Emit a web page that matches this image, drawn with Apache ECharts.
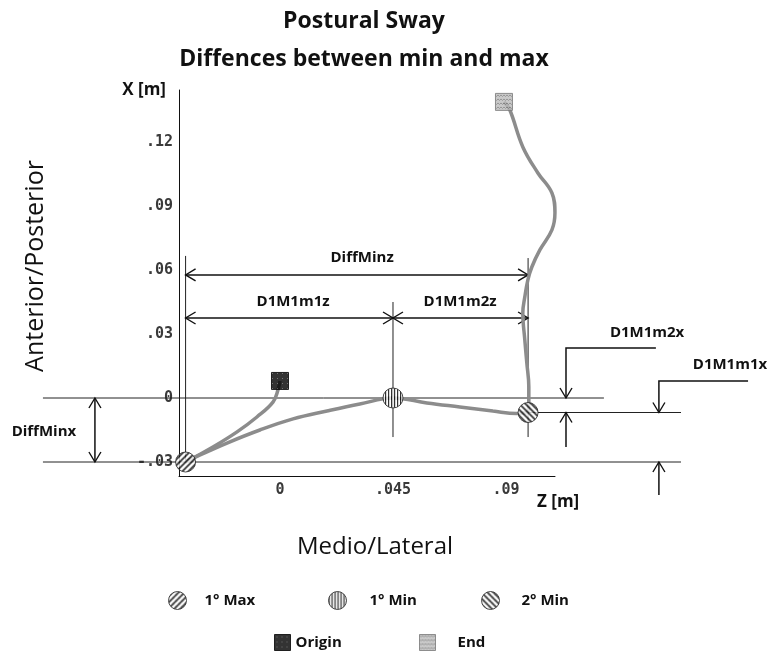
<!DOCTYPE html>
<html><head><meta charset="utf-8">
<script src="https://cdn.jsdelivr.net/npm/echarts@6/dist/echarts.min.js"></script>
<style>html,body{margin:0;padding:0;background:#fff}#c{width:771px;height:652px}</style>
</head><body><div id="c"></div>
<script>
// ---------- data (Z = medio/lateral, X = anterior/posterior, metres) ----------
const zTicks = [0, 0.045, 0.09];
const xTicks = [-0.03, 0, 0.03, 0.06, 0.09, 0.12];

const originPt = [0, 0.0080];
const max1Pt   = [-0.0376, -0.0300];
const min1Pt   = [0.045, 0];
const min2Pt   = [0.0988, -0.0068];
const endPt    = [0.0892, 0.1388];

const pathOriginToMax = [[0,0.0080],[-0.0008,0.0038],[-0.0028,-0.0019],[-0.0092,-0.0089],[-0.0171,-0.0159],[-0.0267,-0.0230],[-0.0346,-0.0281],[-0.0376,-0.0300]];
const pathMaxToMin2 = [[-0.0376,-0.0300],[-0.0318,-0.0267],[-0.0211,-0.0211],[-0.0080,-0.0150],[0.0052,-0.0098],[0.0187,-0.0061],[0.0318,-0.0028],[0.045,0],[0.0585,-0.0023],[0.0716,-0.0042],[0.0848,-0.0061],[0.0943,-0.0073],[0.0988,-0.0068]];
const pathMin2ToEnd = [[0.0988,-0.0068],[0.0991,-0.0023],[0.0991,0.0052],[0.0983,0.0164],[0.0975,0.0272],[0.0967,0.0399],[0.0975,0.0474],[0.0987,0.0553],[0.1003,0.0614],[0.1035,0.0694],[0.1083,0.0788],[0.1095,0.0868],[0.1083,0.0961],[0.1027,0.1055],[0.0967,0.1177],[0.0915,0.1351],[0.0892,0.1388]];

// reference / extension lines (data coords)
const refLines = [
  [[-0.0944,0],[0.1290,0]],
  [[-0.0944,-0.030],[0.1597,-0.030]],
  [[0.0988,-0.0068],[0.1597,-0.0068]],
  [[-0.0376,0.0666],[-0.0376,-0.030]],
  [[0.0988,0.0656],[0.0988,-0.0183]],
  [[0.045,0.0450],[0.045,-0.0183]]
];
// dimension arrows: points, arrow at start, arrow at end
const dimArrows = [
  {pts:[[-0.0376,0.0577],[0.0988,0.0577]], start:true, end:true},
  {pts:[[-0.0376,0.0375],[0.045,0.0375]], start:true, end:true},
  {pts:[[0.045,0.0375],[0.0988,0.0375]], start:true, end:true},
  {pts:[[-0.0737,0],[-0.0737,-0.030]], start:true, end:true},
  {pts:[[0.1497,0.0234],[0.1139,0.0234],[0.1139,0]], start:false, end:true},
  {pts:[[0.1139,-0.0230],[0.1139,-0.0068]], start:false, end:true},
  {pts:[[0.1864,0.0080],[0.1509,0.0080],[0.1509,-0.0068]], start:false, end:true},
  {pts:[[0.1509,-0.0455],[0.1509,-0.030]], start:false, end:true}
];
const dimLabels = [
  {text:'DiffMinz', at:[0.0327,0.0656]},
  {text:'D1M1m1z', at:[0.0052,0.0450]},
  {text:'D1M1m2z', at:[0.0717,0.0450]},
  {text:'DiffMinx', at:[-0.0940,-0.0160]},
  {text:'D1M1m2x', at:[0.1462,0.0305]},
  {text:'D1M1m1x', at:[0.1792,0.0155]}
];

// ---------- patterns ----------
function mkCanvas(w,h,draw){const c=document.createElement('canvas');c.width=w;c.height=h;draw(c.getContext('2d'));return c;}
const cvMax = mkCanvas(6,6,g=>{g.fillStyle='#fff';g.fillRect(0,0,6,6);g.strokeStyle='#000';g.lineWidth=1.7;g.beginPath();
  g.moveTo(-1,1);g.lineTo(1,-1);g.moveTo(-1,7);g.lineTo(7,-1);g.moveTo(5,7);g.lineTo(7,5);g.stroke();});
const cvMin2 = mkCanvas(6,6,g=>{g.fillStyle='#fff';g.fillRect(0,0,6,6);g.strokeStyle='#000';g.lineWidth=1.7;g.beginPath();
  g.moveTo(-1,-1);g.lineTo(7,7);g.moveTo(5,-1);g.lineTo(7,1);g.moveTo(-1,5);g.lineTo(1,7);g.stroke();});
const cvMin1 = mkCanvas(3,3,g=>{g.fillStyle='#fff';g.fillRect(0,0,3,3);g.fillStyle='#000';g.fillRect(1,0,1.2,3);});
const cvOrigin = mkCanvas(5,5,g=>{g.fillStyle='#000';g.fillRect(0,0,5,5);g.fillStyle='#555';g.fillRect(2,2,1,1);});
const cvEnd = mkCanvas(6,4,g=>{g.fillStyle='#bcbcbc';g.fillRect(0,0,6,4);g.strokeStyle='#7a7a7a';g.lineWidth=1;g.beginPath();
  g.moveTo(0,1);g.lineTo(1.5,2.5);g.lineTo(3,1);g.lineTo(4.5,2.5);g.lineTo(6,1);g.stroke();});
// symbols are drawn as unit shapes scaled by size/2, so the chart pattern is scaled back
const pat = (cv, size) => ({image:cv, repeat:'repeat', scaleX: size ? 2/size : 1, scaleY: size ? 2/size : 1});

// ---------- layout constants ----------
const Z_MIN = -0.04022, Z_MAX = 0.10952, X_MIN = -0.03656, X_MAX = 0.14438;
const CIRCLE = 20, SQUARE = 17;
const FONT = '"Open Sans", "Liberation Sans", sans-serif';
const fmt = v => v === 0 ? '0' : (v < 0 ? '-' : '') + String(Math.abs(v)).replace(/^0/, '');

function chevron(tip, from){
  let dx = tip[0]-from[0], dy = tip[1]-from[1]; const L = Math.hypot(dx,dy)||1; dx/=L; dy/=L;
  const len=10, w=6, bx=tip[0]-dx*len, by=tip[1]-dy*len, nx=-dy, ny=dx;
  return {type:'polyline', shape:{points:[[bx+nx*w,by+ny*w],tip,[bx-nx*w,by-ny*w]]}, style:{stroke:'#111',fill:null,lineWidth:1.4}};
}

function legendAt(name,cv,border,left,top,w,h,pad){
  return {data:[{name, itemStyle:{color:pat(cv,0), borderColor:border, borderWidth:1}}], left, top, itemWidth:w, itemHeight:h, padding:0, selectedMode:false,
    textStyle:{fontFamily:FONT, fontWeight:'bold', fontSize:15, color:'#111', padding:[0,0,0,pad]}};
}
function marker(name, pt, symbol, size, cv, border){
  return {type:'scatter', name, data:[pt], symbol, symbolSize:size, z:3, silent:true,
    itemStyle:{color:pat(cv,size), borderColor:border, borderWidth:1}};
}

const chart = echarts.init(document.getElementById('c'), null, {renderer:'canvas'});
chart.setOption({
  backgroundColor:'#fff',
  animation:false,
  title:{text:'Postural Sway\nDiffences between min and max', left:364, top:2, textAlign:'center', padding:0,
    textStyle:{fontFamily:FONT, fontWeight:'bold', fontSize:23, lineHeight:38, color:'#111'}},
  grid:{left:179, top:90, width:376, height:386, containLabel:false, outerBoundsMode:'none'},
  xAxis:{type:'value', min:Z_MIN, max:Z_MAX,
    axisLine:{show:true, onZero:false, lineStyle:{color:'#111', width:1}},
    axisTick:{show:false}, splitLine:{show:false},
    axisLabel:{customValues:zTicks, formatter:fmt, margin:7, fontFamily:'"DejaVu Sans Mono", monospace', fontWeight:'bold', fontSize:15, color:'#3a3a3a'},
    name:'Z [m]', nameLocation:'end', nameGap:-18,
    nameTextStyle:{fontFamily:FONT, fontWeight:'bold', fontSize:17, color:'#111', align:'left', verticalAlign:'top', padding:[18,0,0,0]}},
  yAxis:{type:'value', min:X_MIN, max:X_MAX,
    axisLine:{show:true, onZero:false, lineStyle:{color:'#111', width:1}},
    axisTick:{show:false}, splitLine:{show:false},
    axisLabel:{customValues:xTicks, formatter:fmt, margin:6, verticalAlign:'middle', padding:[0,0,20,0], fontFamily:'"DejaVu Sans Mono", monospace', fontWeight:'bold', fontSize:15, color:'#3a3a3a'},
    name:'X [m]', nameLocation:'end', nameGap:0,
    nameTextStyle:{fontFamily:FONT, fontWeight:'bold', fontSize:17, color:'#111', align:'right', verticalAlign:'middle', padding:[14,13,0,0]}},
  legend:[
    legendAt('1° Max',cvMax,'#222',168,591,20,18,12),
    legendAt('1° Min',cvMin1,'#222',328,591,20,18,17),
    legendAt('2° Min',cvMin2,'#222',481,591,20,18,16),
    legendAt('Origin',cvOrigin,'#000',274,634,16,16,0),
    legendAt('End',cvEnd,'#777',419,634,16,16,17)
  ],
  graphic:[
    {type:'text', x:36, y:266, rotation:Math.PI/2, style:{text:'Anterior/Posterior', font:'25px '+FONT, fill:'#111', align:'center', verticalAlign:'middle', textAlign:'center', textVerticalAlign:'middle'}},
    {type:'text', x:375, y:547, style:{text:'Medio/Lateral', font:'24px '+FONT, fill:'#111', align:'center', verticalAlign:'middle', textAlign:'center', textVerticalAlign:'middle'}}
  ],
  series:[
    {type:'custom', name:'refLines', z:1, silent:true, clip:false,
      data: refLines.map(l=>l[0]),
      renderItem:(params, api)=>({type:'polyline', shape:{points:refLines[params.dataIndex].map(p=>api.coord(p))}, style:{stroke:'#222', fill:null, lineWidth:1}})},
    {type:'custom', name:'dimArrows', z:1, silent:true, clip:false,
      data: dimArrows.map(a=>a.pts[0]),
      renderItem:(params, api)=>{
        const a = dimArrows[params.dataIndex]; const p = a.pts.map(q=>api.coord(q));
        const ch=[{type:'polyline', shape:{points:p}, style:{stroke:'#111', fill:null, lineWidth:1.5}}];
        if(a.start) ch.push(chevron(p[0],p[1]));
        if(a.end) ch.push(chevron(p[p.length-1],p[p.length-2]));
        return {type:'group', children:ch};
      }},
    {type:'custom', name:'dimLabels', z:1, silent:true, clip:false,
      data: dimLabels.map(l=>l.at),
      renderItem:(params, api)=>{const l=dimLabels[params.dataIndex]; const c=api.coord(l.at);
        return {type:'text', x:c[0], y:c[1], style:{text:l.text, font:'bold 15px '+FONT, fill:'#111', align:'center', verticalAlign:'middle', textAlign:'center', textVerticalAlign:'middle'}};}},
    {type:'line', name:'path1', data:pathOriginToMax, smooth:0.4, showSymbol:false, clip:false, z:2, silent:true, lineStyle:{color:'#8c8c8c', width:3.5}},
    {type:'line', name:'path2', data:pathMaxToMin2, smooth:0.4, showSymbol:false, clip:false, z:2, silent:true, lineStyle:{color:'#8c8c8c', width:3.5}},
    {type:'line', name:'path3', data:pathMin2ToEnd, smooth:0.4, showSymbol:false, clip:false, z:2, silent:true, lineStyle:{color:'#8c8c8c', width:3.5}},
    marker('1° Max', max1Pt, 'circle', CIRCLE, cvMax, '#222'),
    marker('1° Min', min1Pt, 'circle', CIRCLE, cvMin1, '#222'),
    marker('2° Min', min2Pt, 'circle', CIRCLE, cvMin2, '#222'),
    marker('Origin', originPt, 'rect', SQUARE, cvOrigin, '#000'),
    marker('End', endPt, 'rect', SQUARE, cvEnd, '#777')
  ]
});
</script>
</body></html>
